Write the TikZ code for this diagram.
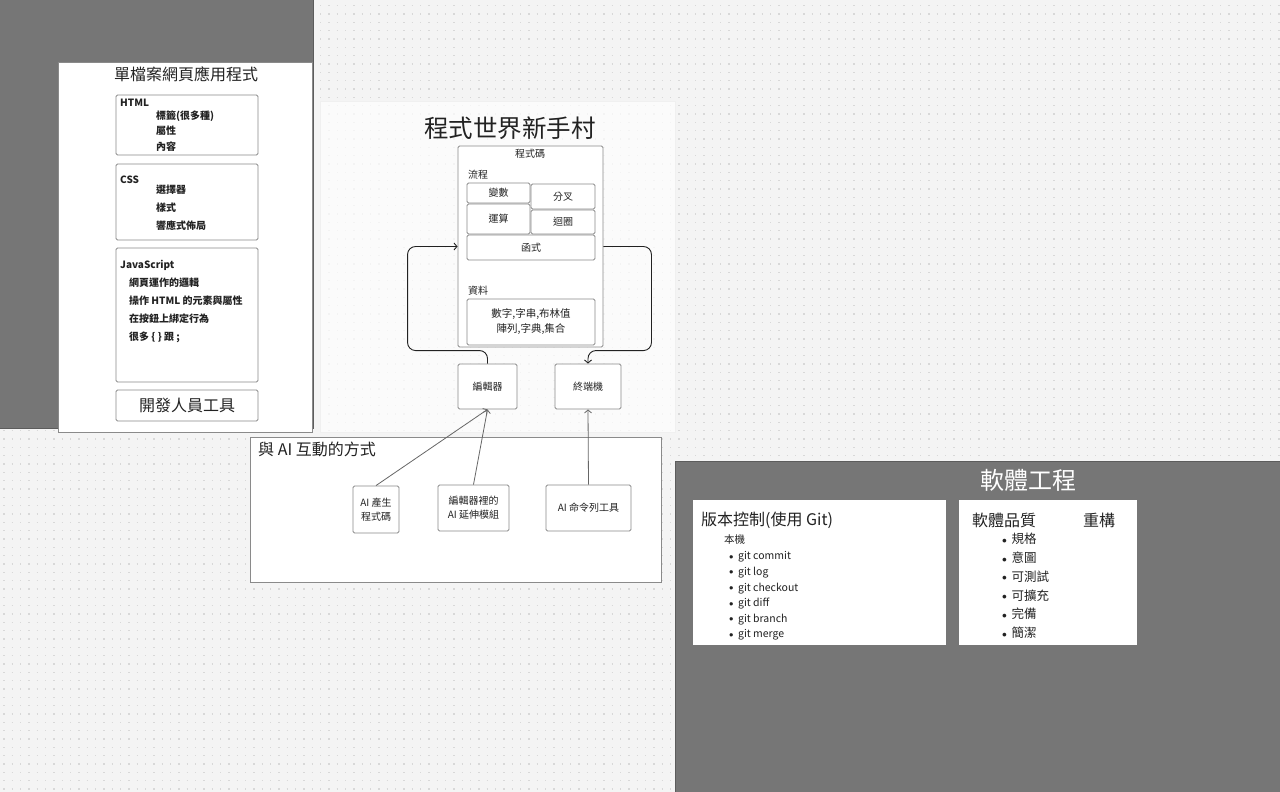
\documentclass[tikz,border=0pt]{standalone}
\usepackage{fontspec}
\setmainfont{Noto Sans CJK TC}
\usetikzlibrary{arrows.meta}
\definecolor{canvas}{HTML}{F4F4F4}
\definecolor{dotgray}{HTML}{D8D8D8}
\definecolor{panelgray}{HTML}{767676}
\definecolor{edgegray}{HTML}{5C5C5C}
\definecolor{linegray}{HTML}{8A8A8A}
\definecolor{inkgray}{HTML}{222222}
\newcommand{\dotitem}{\raisebox{0.5pt}{\scalebox{0.8}{$\bullet$}}\hspace{4.5pt}}
\tikzset{
  card/.style={draw=linegray, fill=white, line width=0.8pt, inner sep=0pt},
  box/.style={draw=linegray, fill=white, line width=0.9pt, rounded corners=1.5pt,
    inner sep=0pt, align=center, text=inkgray, font=\fontsize{10}{14}\selectfont},
  small/.style={inner sep=0pt, text=inkgray, font=\fontsize{10}{12}\selectfont},
  smallbf/.style={small, font=\fontsize{10}{12}\selectfont\bfseries},
  mid/.style={inner sep=0pt, text=inkgray, font=\fontsize{16}{18}\selectfont},
  big/.style={inner sep=0pt, text=inkgray, font=\fontsize{24.5}{28}\selectfont},
  flow/.style={draw=inkgray, line width=0.9pt, rounded corners=8pt, -{Straight Barb[length=3pt,width=7pt]}},
  link/.style={draw=gray!80!black, line width=0.8pt, -{Straight Barb[length=3pt,width=7pt]}}
}
\begin{document}
\begin{tikzpicture}[x=1pt, y=-1pt]
  \useasboundingbox (0,0) rectangle (1280,792);
  \fill[canvas] (0,0) rectangle (1280,792);
  % dot grid
  \foreach \i in {0,...,94}
    \draw[dotgray, line width=1.2pt, dash pattern=on 1.2pt off 7.133pt] (3.4,{5.7+8.333*\i}) -- (1280,{5.7+8.333*\i});

  % gray regions
  \filldraw[fill=panelgray, draw=edgegray, line width=0.8pt] (-1,-1) rectangle (313.5,428);
  \filldraw[fill=panelgray, draw=edgegray, line width=0.8pt] (675,461) rectangle (1281,793);

  % single file web app
  \node[card, minimum width=254pt, minimum height=370pt] (webapp) at (185,247) {};
  \node[mid] (webtitle) at (186,74) {單檔案網頁應用程式};
  \node[box, minimum width=142pt, minimum height=60pt] (html) at (187,125) {};
  \node[smallbf, anchor=west] (htmlname) at (120,103) {HTML};
  \node[smallbf, anchor=west] (html1) at (156,116) {標籤(很多種)};
  \node[smallbf, anchor=west] (html2) at (156,131) {屬性};
  \node[smallbf, anchor=west] (html3) at (156,147) {內容};
  \node[box, minimum width=142pt, minimum height=76pt] (css) at (187,202) {};
  \node[smallbf, anchor=west] (cssname) at (120,180) {CSS};
  \node[smallbf, anchor=west] (css1) at (156,190) {選擇器};
  \node[smallbf, anchor=west] (css2) at (156,208) {樣式};
  \node[smallbf, anchor=west] (css3) at (156,226) {響應式佈局};
  \node[box, minimum width=142pt, minimum height=134pt] (js) at (187,315) {};
  \node[smallbf, anchor=west] (jsname) at (120,265) {JavaScript};
  \node[smallbf, anchor=west] (js1) at (129,283) {網頁運作的邏輯};
  \node[smallbf, anchor=west] (js2) at (129,301) {操作 HTML 的元素與屬性};
  \node[smallbf, anchor=west] (js3) at (129,319) {在按鈕上綁定行為};
  \node[smallbf, anchor=west] (js4) at (129,337) {很多 \{ \} 跟 ;};
  \node[box, minimum width=142pt, minimum height=31pt, font=\fontsize{16}{18}\selectfont] (devtools) at (187,405.5) {開發人員工具};

  % beginner village
  \node[draw=gray!12, fill=white, fill opacity=0.7, minimum width=355pt, minimum height=331pt, inner sep=0pt] (village) at (497.5,266.5) {};
  \node[big] (villagetitle) at (510,128) {程式世界新手村};
  \node[box, minimum width=145pt, minimum height=201pt] (code) at (530.5,246.5) {};
  \node[small] (codename) at (530,154) {程式碼};
  \node[small, anchor=west] (flowname) at (468,175) {流程};
  \node[box, minimum width=63pt, minimum height=20pt] (var) at (498.5,193) {變數};
  \node[box, minimum width=64pt, minimum height=25pt] (branch) at (563,196.5) {分叉};
  \node[box, minimum width=63pt, minimum height=30pt] (calc) at (498.5,219) {運算};
  \node[box, minimum width=64pt, minimum height=24pt] (loop) at (563,222) {迴圈};
  \node[box, minimum width=128pt, minimum height=25pt] (func) at (531,247.5) {函式};
  \node[small, anchor=west] (dataname) at (468,291) {資料};
  \node[box, minimum width=128pt, minimum height=46pt, font=\fontsize{10.5}{15}\selectfont] (data) at (531,322) {數字,字串,布林值\\陣列,字典,集合};
  \node[box, minimum width=59pt, minimum height=45pt] (editor) at (487.5,386.5) {編輯器};
  \node[box, minimum width=66pt, minimum height=45pt] (term) at (588,386.5) {終端機};
  \draw[flow] (editor.north) -- ++(0,-13) -| ([xshift=-50pt]code.west) -- (code.west);
  \draw[flow] (code.east) -- ++(48,0) |- ([yshift=13pt]term.north) -- (term.north);

  % ways to work with AI
  \node[card, minimum width=411pt, minimum height=145pt] (aiways) at (455.5,509.5) {};
  \node[mid, anchor=west] (aititle) at (258,449) {與 AI 互動的方式};
  \node[box, minimum width=46pt, minimum height=47pt] (aigen) at (376,509.5) {AI 產生\\程式碼};
  \node[box, minimum width=71pt, minimum height=46pt] (aiext) at (473.5,508) {編輯器裡的\\AI 延伸模組};
  \node[box, minimum width=85pt, minimum height=46pt] (aicli) at (588.5,508) {AI 命令列工具};
  \draw[link] (aigen.north) -- (editor.south);
  \draw[link] (aiext.north) -- (editor.south);
  \draw[link] (aicli.north) -- (term.south);

  % software engineering
  \node[big, text=white, font=\fontsize{24}{28}\selectfont] (setitle) at (1028,480) {軟體工程};
  \node[card, draw=none, minimum width=253pt, minimum height=145pt] (vcs) at (819.5,572.5) {};
  \node[mid, anchor=west] (vcstitle) at (701,520) {版本控制(使用 Git)};
  \node[small, anchor=west, font=\fontsize{10.5}{12}\selectfont] (local) at (724,540) {本機};
  \foreach \cmd [count=\i] in {commit, log, checkout, diff, branch, merge}
    \node[small, anchor=west, font=\fontsize{10.5}{12}\selectfont] (git\i) at (729,{557+15.6*(\i-1)}) {\dotitem git \cmd};
  \node[card, draw=none, minimum width=178pt, minimum height=145pt] (quality) at (1048,572.5) {};
  \node[mid, anchor=west] (qualtitle) at (972,520) {軟體品質};
  \node[mid, anchor=west] (refactor) at (1083,520) {重構};
  \foreach \item [count=\i] in {規格, 意圖, 可測試, 可擴充, 完備, 簡潔}
    \node[small, anchor=west, font=\fontsize{12.5}{14}\selectfont] (qual\i) at (1002,{539+18.8*(\i-1)}) {\dotitem\item};
\end{tikzpicture}
\end{document}
